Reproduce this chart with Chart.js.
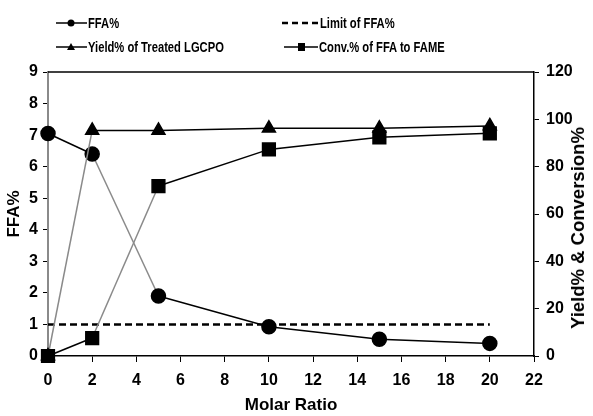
<!DOCTYPE html>
<html><head><meta charset="utf-8">
<script src="https://cdn.jsdelivr.net/npm/chart.js@4/dist/chart.umd.min.js"></script>
<style>
html,body{margin:0;padding:0;background:#fff;}
#wrap{position:relative;width:593px;height:416px;}
canvas{position:absolute;left:0;top:0;}
.lg{position:absolute;font-family:"Liberation Sans",sans-serif;font-weight:bold;font-size:14px;color:#000;line-height:16px;white-space:nowrap;display:flex;align-items:center;}
.lg span{display:inline-block;transform:scaleX(0.8);transform-origin:left center;margin-left:1px;}
.vt{position:absolute;font-family:"Liberation Sans",sans-serif;font-weight:bold;font-size:18.5px;color:#000;white-space:nowrap;transform:translate(-50%,-50%) rotate(-90deg);}
</style></head><body>
<div id="wrap">
<canvas id="c" width="593" height="416"></canvas>
<div class="lg" style="left:56px;top:15px;"><svg width="31" height="16"><line x1="0" y1="8" x2="31" y2="8" stroke="#000" stroke-width="1.5"/><circle cx="15" cy="8" r="3.5" fill="#000"/></svg><span>FFA%</span></div>
<div class="lg" style="left:282px;top:15px;"><svg width="37" height="16"><line x1="0" y1="8" x2="37" y2="8" stroke="#000" stroke-width="2.5" stroke-dasharray="6,4"/></svg><span>Limit of FFA%</span></div>
<div class="lg" style="left:56px;top:39px;"><svg width="31" height="16"><line x1="0" y1="8" x2="31" y2="8" stroke="#000" stroke-width="1.5"/><polygon points="15,4 19,11 11,11" fill="#000"/></svg><span>Yield% of Treated LGCPO</span></div>
<div class="lg" style="left:284px;top:39px;"><svg width="34" height="16"><line x1="0" y1="8" x2="34" y2="8" stroke="#000" stroke-width="1.5"/><rect x="14" y="4" width="7" height="8" fill="#000"/></svg><span>Conv.% of FFA to FAME</span></div>
<div class="vt" style="left:578px;top:228px;">Yield% &amp; Conversion%</div>
</div>
<script>
const molarRatio = [0, 2, 5, 10, 15, 20];
const ffa = [7.05, 6.4, 1.9, 0.93, 0.53, 0.4];
const ffaLimit = [1, 1];
const limitX = [0, 20];
const yieldPct = [0, 95.3, 95.3, 96.2, 96.2, 97.2];
const convPct = [0, 7.6, 71.8, 87.3, 92.4, 94.1];
const xTicks = [0, 2, 4, 6, 8, 10, 12, 14, 16, 18, 20, 22];

const pts = (xs, ys) => xs.map((x, i) => ({x: x, y: ys[i]}));
const font = '"Liberation Sans",sans-serif';
const gray = '#8a8a8a';

const frame = {
  id: 'frame',
  afterDatasetsDraw(chart) {
    const {ctx, chartArea: a} = chart;
    ctx.save();
    ctx.strokeStyle = '#000';
    ctx.lineWidth = 1.5;
    ctx.beginPath();
    ctx.moveTo(a.left, a.top); ctx.lineTo(a.right, a.top);
    ctx.stroke();
    ctx.restore();
  }
};

new Chart(document.getElementById('c'), {
  type: 'line',
  data: {
    datasets: [
      {label: 'Limit of FFA%', data: pts(limitX, ffaLimit), yAxisID: 'y', borderColor: '#000', borderWidth: 2.5, borderDash: [7, 4], pointRadius: 0, fill: false, order: 4, clip: false},
      {label: 'FFA%', data: pts(molarRatio, ffa), yAxisID: 'y', borderColor: '#000', backgroundColor: '#000', borderWidth: 1.5, pointStyle: 'circle', pointRadius: 7, fill: false, order: 3, clip: false,
        segment: {borderColor: c => c.p0DataIndex === 1 ? gray : '#000'}},
      {label: 'Yield% of Treated LGCPO', data: pts(molarRatio, yieldPct), yAxisID: 'y1', borderColor: '#000', backgroundColor: '#000', borderWidth: 1.5, pointStyle: 'triangle', pointRadius: 7.5, fill: false, order: 2, clip: false,
        segment: {borderColor: c => c.p0DataIndex === 0 ? gray : '#000'}},
      {label: 'Conv.% of FFA to FAME', data: pts(molarRatio, convPct), yAxisID: 'y1', borderColor: '#000', backgroundColor: '#000', borderWidth: 1.5, pointStyle: 'rect', pointRadius: 9, fill: false, order: 1, clip: false,
        segment: {borderColor: c => c.p0DataIndex === 1 ? gray : '#000'}}
    ]
  },
  options: {
    responsive: false,
    animation: false,
    layout: {padding: {top: 72, left: 4, right: 2, bottom: 0}},
    plugins: {legend: {display: false}, tooltip: {enabled: false}},
    scales: {
      x: {
        type: 'linear', min: 0, max: 22,
        afterBuildTicks: s => { s.ticks = xTicks.map(v => ({value: v})); },
        grid: {drawOnChartArea: false, tickLength: 6, color: '#000', lineWidth: 1},
        border: {color: '#000', width: 1.5},
        ticks: {color: '#000', font: {family: font, weight: 'bold', size: 16}, padding: 9, maxRotation: 0},
        title: {display: true, text: 'Molar Ratio', color: '#000', font: {family: font, weight: 'bold', size: 17}, padding: {top: 0, bottom: 0}},
        afterFit: s => { s.height = 60; }
      },
      y: {
        position: 'left', min: 0, max: 9,
        ticks: {stepSize: 1, color: '#000', font: {family: font, weight: 'bold', size: 16}, padding: 5},
        grid: {drawOnChartArea: false, tickLength: 5, color: '#000'},
        border: {color: gray, width: 2},
        title: {display: true, text: 'FFA%', color: '#000', font: {family: font, weight: 'bold', size: 17}, padding: {top: 0, bottom: 2}},
        afterFit: s => { s.width = 44; }
      },
      y1: {
        position: 'right', min: 0, max: 120,
        ticks: {stepSize: 20, color: '#000', font: {family: font, weight: 'bold', size: 16}, padding: 7},
        grid: {drawOnChartArea: false, tickLength: 5, color: '#000'},
        border: {color: '#000', width: 1.5},
        title: {display: false},
        afterFit: s => { s.width = 57; }
      }
    }
  },
  plugins: [frame]
});
</script>
</body></html>
